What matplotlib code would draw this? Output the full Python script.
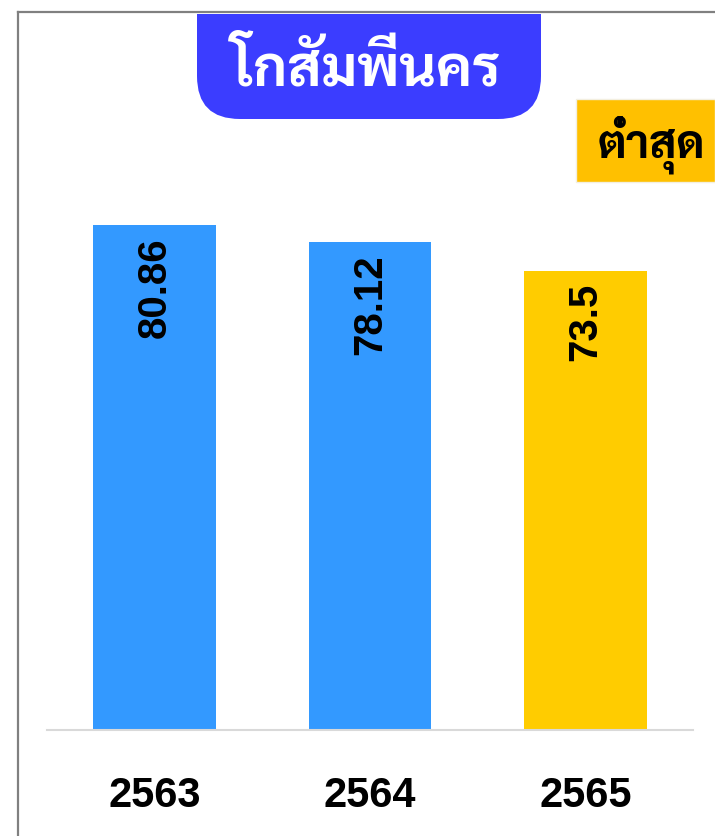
import matplotlib
matplotlib.use('Agg')
import matplotlib.pyplot as plt
from matplotlib.patches import FancyBboxPatch, Rectangle
from matplotlib.lines import Line2D

# -- data

years = ['2563', '2564', '2565']
values = [80.86, 78.12, 73.5]
bar_colors = ['#3399ff', '#3399ff', '#ffcc00']
title = 'โกสัมพีนคร'
badge = 'ต่ำสุด'

# -- figure, everything laid out in pixels of a 715x837 picture

W, H = 715, 837
fig = plt.figure(figsize=(W / 100, H / 100), dpi=100)

def fx(x):
    return x / W

def fy(y):
    return 1 - y / H

ax = fig.add_axes([fx(47), fy(731), 646 / W, 600 / H])
ax.bar(range(len(years)), values, width=0.571, color=bar_colors, zorder=2)
ax.set_xlim(-0.5, 2.5)
ax.set_ylim(0, 600 / 6.245)

for s in ['top', 'right', 'left']:
    ax.spines[s].set_visible(False)
ax.spines['bottom'].set_color('#d9d9d9')
ax.spines['bottom'].set_linewidth(1.5)
ax.set_yticks([])
ax.set_xticks(range(len(years)), years)
ax.tick_params(axis='x', length=0, pad=54.5)
for lab in ax.get_xticklabels():
    lab.set_fontfamily(['Liberation Sans', 'DejaVu Sans'])
    lab.set_fontweight('bold')
    lab.set_fontsize(30)
    lab.set_va('baseline')

for i, v in enumerate(values):
    ax.annotate(f'{v:g}', (i, v), xytext=(0, -8), textcoords='offset points',
                rotation=90, ha='center', va='top', fontsize=29, fontweight='bold',
                family=['Liberation Sans', 'DejaVu Sans'], color='black')

# -- title box with rounded bottom corners
box = FancyBboxPatch((fx(197), fy(120)), fx(541) - fx(197), fy(-60) - fy(120),
                     boxstyle='round,pad=0,rounding_size=0.06', transform=fig.transFigure,
                     facecolor='#3b3dff', edgecolor='none', mutation_aspect=W / H)
fig.patches.append(box)
fig.patches.append(Rectangle((0, fy(15)), 1, 1 - fy(15), transform=fig.transFigure,
                             facecolor='white', edgecolor='none'))
fig.text(fx(366), fy(85), title, ha='center', va='baseline', color='white',
         fontsize=41, fontweight='bold', family=['Sarabun', 'DejaVu Sans'])

# -- badge
fig.patches.append(Rectangle((fx(576), fy(183)), 1 - fx(576), fy(100) - fy(183),
                             transform=fig.transFigure, facecolor='#ffc000',
                             edgecolor='#f3efe0', linewidth=1))
fig.text(fx(651), fy(158), badge, ha='center', va='baseline', color='black',
         fontsize=33, fontweight='bold', family=['Sarabun', 'DejaVu Sans'])

# -- gray frame, top and left
fig.lines.append(Line2D([fx(17.5), 1], [fy(13), fy(13)], transform=fig.transFigure,
                        color='#808080', linewidth=1.6))
fig.lines.append(Line2D([fx(17.5), fx(17.5)], [fy(13), 0], transform=fig.transFigure,
                        color='#808080', linewidth=1.6))

fig.savefig('out.png')
